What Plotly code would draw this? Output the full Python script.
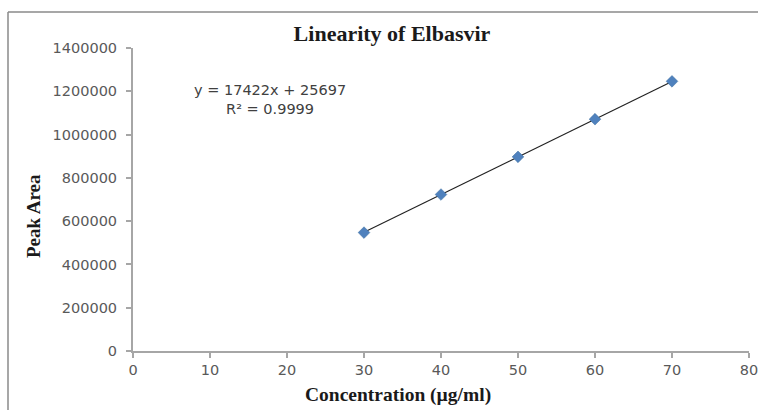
import plotly.graph_objects as go

conc = [30, 40, 50, 60, 70]
peak_area = [547000, 723000, 897000, 1071000, 1246000]
slope = 17422
intercept = 25697
r2 = 0.9999
x_ticks = [0, 10, 20, 30, 40, 50, 60, 70, 80]
y_ticks = [0, 200000, 400000, 600000, 800000, 1000000, 1200000, 1400000]

fit_x = [min(conc), max(conc)]
fit_y = [slope * v + intercept for v in fit_x]

fig = go.Figure()
fig.add_trace(go.Scatter(x=fit_x, y=fit_y, mode="lines",
                         line=dict(color="#222222", width=1.2), showlegend=False))
fig.add_trace(go.Scatter(x=conc, y=peak_area, mode="markers",
                         marker=dict(symbol="diamond", size=9, color="#4f81bd",
                                     line=dict(color="#41709f", width=0.5)),
                         showlegend=False))

W, H = 758, 410
L, R, T, B = 133, 9, 48, 410 - 351
pw, ph = W - L - R, H - T - B

def px(x):
    return (x - L) / pw

def py(y):
    return 1 - (y - T) / ph

sans = "DejaVu Sans, sans-serif"
tick_font = dict(family=sans, size=14.5, color="#595959")
title_font = dict(family="Liberation Serif, serif", size=19.5, color="#1a1a1a")
fig.update_layout(
    width=W, height=H,
    margin=dict(l=L, r=R, t=T, b=B),
    paper_bgcolor="white", plot_bgcolor="white",
    title=dict(text="<b>Linearity of Elbasvir</b>", xref="paper", x=px(392), xanchor="center",
               y=1 - 33 / H, yanchor="middle",
               font=dict(family="Liberation Serif, serif", size=22, color="#1a1a1a")),
    xaxis=dict(range=[0, 80], tickvals=x_ticks, showgrid=False, zeroline=False,
               showline=True, linecolor="#a6a6a6", linewidth=2, automargin=False,
               ticks="outside", ticklen=5, tickcolor="#a6a6a6", tickwidth=1.5,
               tickfont=tick_font, ticklabelstandoff=0, ticklabeloverflow="allow"),
    yaxis=dict(range=[0, 1400000], tickvals=y_ticks, showgrid=False, zeroline=False,
               showline=True, linecolor="#a6a6a6", linewidth=2, automargin=False,
               ticks="outside", ticklen=5, tickcolor="#a6a6a6", tickwidth=1.5,
               tickfont=tick_font, tickformat="d", ticklabelstandoff=6,
               ticklabeloverflow="allow"),
    annotations=[
        dict(text=f"y = {slope}x + {intercept}<br>R² = {r2}", xref="paper", yref="paper",
             x=px(270), y=py(99), xanchor="center", yanchor="middle", showarrow=False,
             align="center",
             font=dict(family=sans, size=14.5, color="#404040")),
        dict(text="<b>Concentration (µg/ml)</b>", xref="paper", yref="paper",
             x=px(398), y=py(395), xanchor="center", yanchor="middle", showarrow=False,
             font=title_font),
        dict(text="<b>Peak Area</b>", xref="paper", yref="paper", textangle=-90,
             x=px(33), y=py(216), xanchor="center", yanchor="middle", showarrow=False,
             font=dict(family="Liberation Serif, serif", size=19, color="#1a1a1a")),
    ],
    shapes=[
        dict(type="line", xref="paper", yref="paper", x0=px(8), x1=px(758), y0=py(12), y1=py(12),
             line=dict(color="#8a8a8a", width=1.5)),
        dict(type="line", xref="paper", yref="paper", x0=px(8), x1=px(8), y0=py(12), y1=py(410),
             line=dict(color="#8a8a8a", width=1.5)),
    ],
)

fig.write_html(
    "out.html",
    config={"displayModeBar": False},
    post_script="document.body.style.margin='0';document.documentElement.style.overflow='hidden';",
)
